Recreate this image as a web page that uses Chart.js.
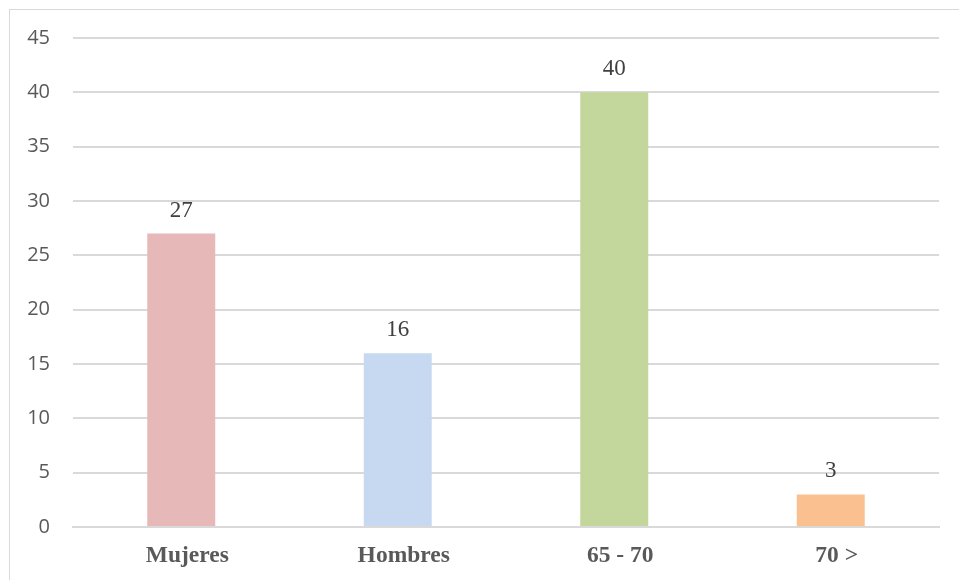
<!DOCTYPE html>
<html>
<head>
<meta charset="utf-8">
<script src="https://cdn.jsdelivr.net/npm/chart.js@4/dist/chart.umd.min.js"></script>
<style>
    html, body { margin: 0; padding: 0; background: #ffffff; overflow: hidden; }
    #frame {
        position: absolute; left: 9px; top: 9px; width: 1000px; height: 620px;
        border-top: 1px solid #d9d9d9; border-left: 1px solid #d9d9d9;
    }
    #wrap { position: absolute; left: 0; top: 0; width: 959px; height: 580px; }
</style>
</head>
<body>
<div id="frame"></div>
<div id="wrap"><canvas id="myChart"></canvas></div>
<script>
const categories = ['Mujeres', 'Hombres', '65 - 70', '70 >'];
const values = [27, 16, 40, 3];
const barColors = ['#e6b9b8', '#c6d9f1', '#c3d69b', '#fac090'];
const yTicks = [0, 5, 10, 15, 20, 25, 30, 35, 40, 45];

// values written over the bars
const valueLabels = {
    id: 'valueLabels',
    afterDatasetsDraw: function (chart) {
        const ctx = chart.ctx;
        const meta = chart.getDatasetMeta(0);
        ctx.save();
        ctx.font = '23px "Liberation Serif", "Times New Roman", serif';
        ctx.fillStyle = '#404040';
        ctx.textAlign = 'center';
        ctx.textBaseline = 'middle';
        meta.data.forEach(function (bar, i) {
            ctx.fillText(String(values[i]), bar.x, bar.y - 23);
        });
        ctx.restore();
    }
};

const data = {
    labels: categories,
    datasets: [{
        data: values,
        backgroundColor: barColors,
        borderWidth: 0,
        barPercentage: 0.314,
        categoryPercentage: 1
    }]
};

const config = {
    type: 'bar',
    data: data,
    options: {
        responsive: true,
        maintainAspectRatio: false,
        animation: false,
        layout: { padding: { left: 0, right: 20, top: 38, bottom: 0 } },
        plugins: {
            legend: { display: false },
            tooltip: { enabled: false }
        },
        scales: {
            x: {
                grid: { display: false, drawTicks: false },
                border: { display: true, color: '#d9d9d9', width: 2 },
                ticks: {
                    color: '#595959',
                    padding: 15,
                    labelOffset: 6,
                    font: { family: '"Liberation Serif", "Times New Roman", serif', size: 23.5, weight: 'bold' }
                },
                afterFit: function (scale) { scale.height = 53; }
            },
            y: {
                min: 0,
                max: 45,
                afterBuildTicks: function (scale) {
                    scale.ticks = yTicks.map(function (v) { return { value: v }; });
                },
                grid: { color: '#d9d9d9', lineWidth: 2, drawTicks: false },
                border: { display: false },
                ticks: {
                    color: '#595959',
                    padding: 23,
                    font: { family: '"Open Sans", sans-serif', size: 20 }
                },
                afterFit: function (scale) { scale.width = 73; }
            }
        }
    },
    plugins: [valueLabels]
};

const myChart = new Chart(
    document.getElementById('myChart'),
    config
);
</script>
</body>
</html>
